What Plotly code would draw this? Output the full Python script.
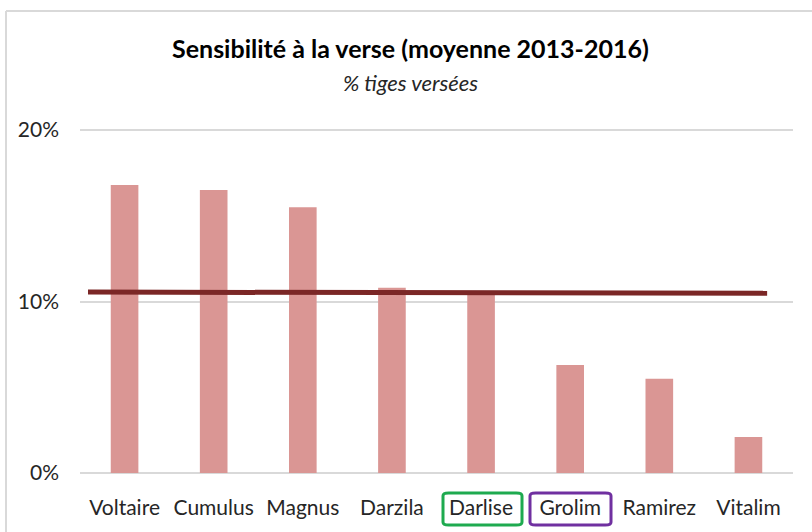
import plotly.graph_objects as go

categories = ["Voltaire", "Cumulus", "Magnus", "Darzila", "Darlise", "Grolim", "Ramirez", "Vitalim"]
values = [16.8, 16.5, 15.5, 10.8, 10.4, 6.3, 5.5, 2.1]
trend_x = [-0.41, 7.21]
trend_y = [10.55, 10.48]
y_ticks = [0, 10, 20]
y_ticklabels = ["0%", "10%", "20%"]

FONT = "Lato"
fig = go.Figure()
fig.add_trace(go.Bar(x=categories, y=values, marker=dict(color="#DA9694", line=dict(width=0)),
                     width=0.31, showlegend=False, hoverinfo="x+y"))
fig.add_trace(go.Scatter(x=trend_x, y=trend_y, xaxis="x2", mode="lines",
                         line=dict(color="#7B2726", width=5), showlegend=False))

fig.update_layout(
    width=812, height=532,
    margin=dict(l=80, r=19, t=129, b=59),
    paper_bgcolor="white", plot_bgcolor="white",
    font=dict(family=FONT, size=21, color="#262626"),
    bargap=0.69,
    xaxis=dict(type="category", showgrid=False, showline=False, zeroline=False,
               ticks="", ticklabelstandoff=20, tickfont=dict(size=21, color="#262626")),
    xaxis2=dict(overlaying="x", range=[-0.5, 7.5], visible=False),
    yaxis=dict(range=[0, 20.06], tickvals=y_ticks, ticktext=y_ticklabels,
               showgrid=True, gridcolor="#D9D9D9", gridwidth=1.5,
               zeroline=True, zerolinecolor="#D9D9D9", zerolinewidth=1.5,
               showline=False, ticks="", ticklabelstandoff=20,
               tickfont=dict(size=21, color="#262626")),
    annotations=[
        dict(text="<b>Sensibilité à la verse (moyenne 2013-2016)</b>", xref="paper", yref="paper",
             x=0.463, y=1.236, showarrow=False, xanchor="center", yanchor="middle",
             font=dict(size=25, color="#000000", family=FONT)),
        dict(text="<i>% tiges versées</i>", xref="paper", yref="paper",
             x=0.463, y=1.134, showarrow=False, xanchor="center", yanchor="middle",
             font=dict(size=22, color="#262626", family=FONT)),
    ],
)

def rounded_box(x0, x1, y0, y1, r):
    return (f"M {x0+r},{y0} L {x1-r},{y0} Q {x1},{y0} {x1},{y0+r} L {x1},{y1-r} "
            f"Q {x1},{y1} {x1-r},{y1} L {x0+r},{y1} Q {x0},{y1} {x0},{y1-r} "
            f"L {x0},{y0+r} Q {x0},{y0} {x0+r},{y0} Z")

pw, ph = 713, 344
def px(x): return (x - 80) / pw
def py(y): return (473 - y) / ph

shapes = []
for (xa, xb, col) in [(443, 522, "#1EAA4F"), (530, 611, "#7030A0")]:
    shapes.append(dict(type="path", xref="paper", yref="paper",
                       path=rounded_box(px(xa), px(xb), py(525), py(493), 0.008),
                       line=dict(color=col, width=3)))
shapes.append(dict(type="line", xref="paper", yref="paper", x0=px(6), x1=px(6), y0=py(540), y1=py(11),
                   line=dict(color="#D9D9D9", width=2)))
shapes.append(dict(type="line", xref="paper", yref="paper", x0=px(6), x1=px(820), y0=py(11), y1=py(11),
                   line=dict(color="#D9D9D9", width=2)))
fig.update_layout(shapes=shapes)

fig.write_html("out.html", config={"displayModeBar": False},
               post_script="document.body.style.margin='0';document.body.style.overflow='hidden';")
